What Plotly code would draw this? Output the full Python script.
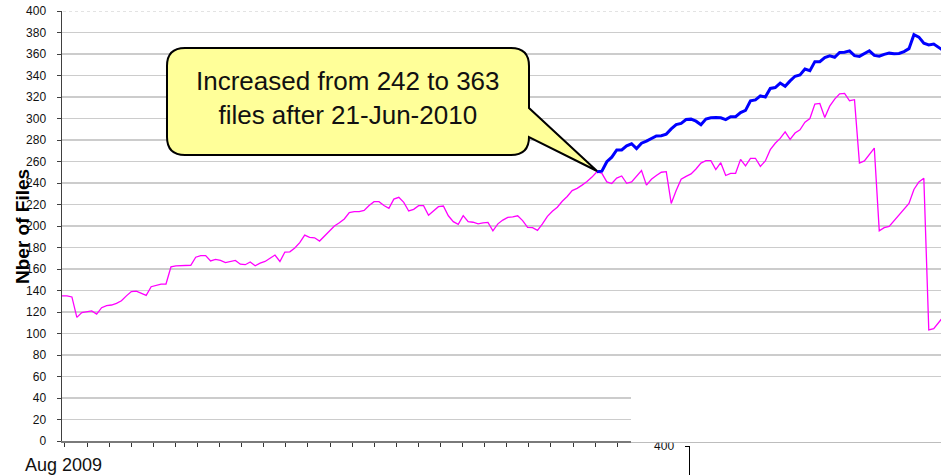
import pandas as pd
import plotly.graph_objects as go

# ---------------- data ----------------
START_DATE = "2009-08-01"
STEP = "3D"
SPLIT_DATE = "2010-06-21"

files_all = [
    135, 135, 134, 115, 119.5, 120, 121, 118, 124, 126,
    126.5, 128, 130.5, 135, 139, 139.5, 137.5, 135.5, 143.5, 145,
    146, 146, 162, 163, 163, 163, 163.5, 171, 172.5, 172.5,
    167.5, 169, 168, 166, 167, 168, 164.5, 164, 166.5, 163,
    165.5, 167, 170, 173, 167, 175.8, 176, 179.5, 184.5, 191.5,
    189.5, 189, 186, 191, 195.5, 200, 203, 206.5, 212.5, 213.3,
    213.3, 214.5, 219, 222.6, 222.6, 219, 216.4, 225, 226.7, 222,
    214, 215.5, 218.9, 219, 210, 214, 218, 218.6, 209.5, 204,
    201.6, 209.6, 204, 203.5, 202, 203, 203.4, 195.5, 202, 205.5,
    208, 208.5, 209.5, 205, 198.8, 198.5, 196, 202, 209, 213.7,
    217.5, 223, 227.5, 233, 235, 238, 241.3, 245.5, 250.5, 249,
    241, 239.5, 244.5, 246.5, 239.7, 241, 246, 251.5, 238, 243.5,
    247, 250, 250.5, 221, 233, 243.5, 246.2, 248.5, 253, 258.5,
    260.8, 260.8, 252.5, 258.9, 247, 249, 249, 262, 256, 263,
    263, 255.5, 260.5, 271, 277, 281.5, 287.5, 280.5, 286.5, 289.5,
    296.5, 300, 313.5, 314, 301, 311.5, 318, 323, 323.4, 316.5,
    317.5, 258.5, 260.5, 266, 272.5, 195.5, 198.5, 199.6, 205, 211,
    216, 221, 234, 241, 244.4, 103.3, 104.5, 110, 116,
]

files_new = [
    250.5, 251, 259.8, 264, 270.7, 270.7, 274.5, 276.5, 272, 277,
    279, 281.5, 283.7, 284, 285.5, 290.3, 294.3, 295.5, 299, 299.4,
    297.5, 294.2, 299.5, 300.6, 301, 300.6, 299, 301.7, 301.7, 305.5,
    307.5, 316.5, 317.3, 321, 320, 328, 328.8, 333, 330, 335,
    339.3, 340.5, 346, 344.5, 352.9, 352.9, 356.7, 358.3, 357, 361.5,
    361.7, 362.9, 358.5, 357.8, 360.3, 363, 358.7, 358, 359.7, 360.8,
    360.3, 360.5, 362.3, 365, 378, 375.7, 370, 368.4, 369.2, 366.3,
    363,
]

y_ticks = list(range(0, 401, 20))
first_label = "Aug 2009"
y_title = "Nber of Files"
callout_text = "Increased from 242 to 363<br>files after 21-Jun-2010"

dates = pd.date_range(START_DATE, periods=len(files_all), freq=STEP)
split_idx = list(dates).index(pd.Timestamp(SPLIT_DATE))
dates_new = dates[split_idx:split_idx + len(files_new)]

# ---------------- layout helpers ----------------
W, H = 941, 475
FONT = "Liberation Sans, Arial, sans-serif"


def px(x):
    return x / W


def py(y):
    return 1 - y / H


start = pd.Timestamp(START_DATE)
x_end = start + pd.Timedelta(days=532.4)
tick_vals = [start + pd.Timedelta(days=1.8 + 13.38 * k) for k in range(26)]

fig = go.Figure()
fig.add_trace(go.Scatter(
    x=dates, y=files_all, mode="lines",
    line=dict(color="#ff00ff", width=1.3), hoverinfo="skip",
))
fig.add_trace(go.Scatter(
    x=dates_new, y=files_new, mode="lines",
    line=dict(color="#0000ff", width=3), hoverinfo="skip",
))
# empty trace for the partially visible second chart
fig.add_trace(go.Scatter(x=[], y=[], xaxis="x2", yaxis="y2", mode="lines"))

fig.update_layout(
    width=W, height=H, autosize=False,
    margin=dict(l=0, r=0, t=0, b=0, pad=0, autoexpand=False),
    paper_bgcolor="white", plot_bgcolor="white",
    showlegend=False,
    font=dict(family=FONT, color="#000000"),
    xaxis=dict(
        type="date", domain=[px(62), 1], range=[start, x_end],
        showgrid=False, zeroline=False, automargin=False,
        showline=True, linecolor="#7a7a7a", linewidth=2,
        ticks="outside", ticklen=4, tickwidth=1, tickcolor="#333333",
        tickvals=tick_vals, showticklabels=False, anchor="y",
    ),
    yaxis=dict(
        domain=[py(441), py(11)], range=[0, 400], automargin=False,
        tickvals=y_ticks, ticktext=[str(v) for v in y_ticks],
        showgrid=True, gridcolor="#cccccc", gridwidth=1.5,
        zeroline=False,
        showline=True, linecolor="#404040", linewidth=1.5,
        ticks="outside", ticklen=4, tickcolor="#404040",
        tickfont=dict(size=12, color="#111111"),
        ticklabelstandoff=8, anchor="x",
    ),
    xaxis2=dict(domain=[px(690), 1], range=[0, 1], visible=False,
                anchor="y2", automargin=False),
    yaxis2=dict(
        domain=[0, py(446)], range=[0, 400], automargin=False,
        tickvals=[400], ticktext=["400"],
        showgrid=True, gridcolor="#888888", gridwidth=1.5, zeroline=False,
        showline=True, linecolor="#000000", linewidth=1.5,
        ticks="outside", ticklen=4, tickcolor="#000000",
        tickfont=dict(size=12, color="#111111"),
        ticklabelstandoff=8, anchor="x2",
    ),
)

# cover lower gridlines / axis on the right (overlapped by the second chart)
fig.add_shape(type="rect", xref="paper", yref="paper",
              x0=px(631), x1=1, y0=py(442.6), y1=py(384),
              fillcolor="white", line=dict(width=0), layer="above")
# dotted top border at 400
fig.add_shape(type="line", xref="paper", yref="y",
              x0=px(63), x1=1, y0=400, y1=400,
              line=dict(color="white", width=2.5), layer="above")
fig.add_shape(type="line", xref="paper", yref="y",
              x0=px(63), x1=1, y0=400, y1=400,
              line=dict(color="#c8c8c8", width=1, dash="dot"), layer="above")

# callout bubble
L, R, T, B, r = 167, 529, 48, 155, 18
tip = (597, 171)
pts = [
    ("M", L + r, T), ("L", R - r, T), ("Q", R, T, R, T + r),
    ("L", R, 108), ("L", tip[0], tip[1]), ("L", R, B - r),
    ("Q", R, B, R - r, B), ("L", L + r, B), ("Q", L, B, L, B - r),
    ("L", L, T + r), ("Q", L, T, L + r, T),
]
path = ""
for p in pts:
    cmd = p[0]
    coords = p[1:]
    segs = []
    for i in range(0, len(coords), 2):
        segs.append(f"{px(coords[i]):.5f},{py(coords[i + 1]):.5f}")
    path += cmd + " " + " ".join(segs) + " "
path += "Z"
fig.add_shape(type="path", xref="paper", yref="paper", path=path,
              fillcolor="#ffff99", line=dict(color="#000000", width=2),
              layer="above")

fig.add_annotation(x=px((L + R) / 2), y=py(98), xref="paper", yref="paper",
                   text=callout_text, showarrow=False,
                   font=dict(size=26, color="#111111", family=FONT),
                   align="center", xanchor="center", yanchor="middle")

fig.add_annotation(x=px(22), y=py(227), xref="paper", yref="paper",
                   text=f"<b>{y_title}</b>", textangle=-90, showarrow=False,
                   font=dict(size=19, color="#000000", family=FONT),
                   xanchor="center", yanchor="middle")

fig.add_annotation(x=px(64), y=py(465), xref="paper", yref="paper",
                   text=first_label, showarrow=False,
                   font=dict(size=18, color="#111111", family=FONT),
                   xanchor="center", yanchor="middle")

fig.write_html(
    "out.html",
    config={"displayModeBar": False, "staticPlot": True},
    post_script="document.body.style.margin='0';"
                "document.body.style.padding='0';"
                "document.body.style.overflow='hidden';",
)
